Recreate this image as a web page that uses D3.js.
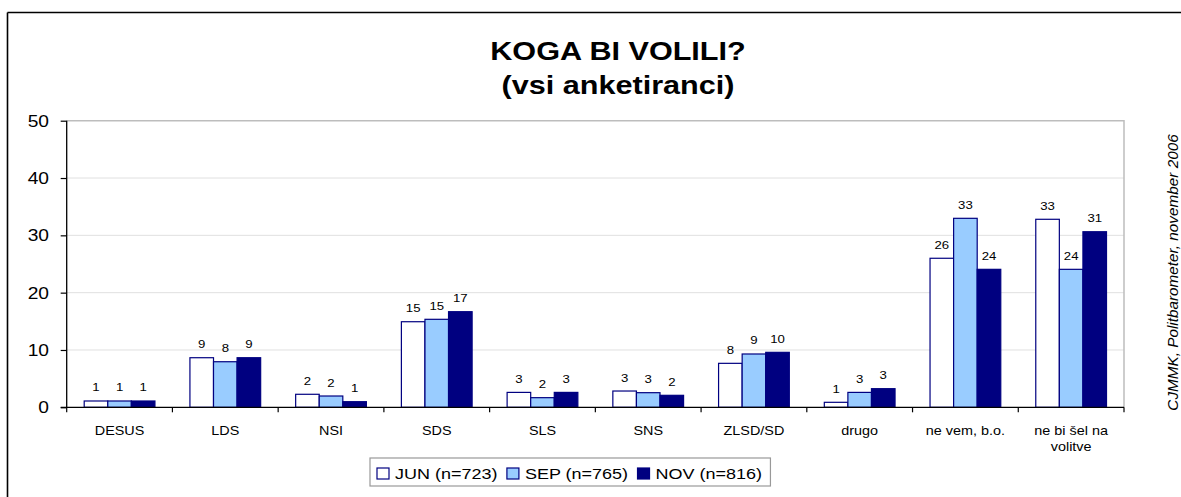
<!DOCTYPE html>
<html>
<head>
<meta charset="utf-8">
<script src="https://cdn.jsdelivr.net/npm/d3@7"></script>
<style>
  html, body { margin: 0; padding: 0; background: #fff; overflow: hidden; }
  svg { display: block; font-family: "Liberation Sans", Arial, sans-serif; }
</style>
</head>
<body>
<svg id="chart" width="1181" height="497"></svg>
<script>
// ---- data ----
const categories = ["DESUS", "LDS", "NSI", "SDS", "SLS", "SNS", "ZLSD/SD", "drugo", "ne vem, b.o.", "ne bi šel na volitve"];
const seriesNames = ["JUN (n=723)", "SEP (n=765)", "NOV (n=816)"];
const junValues = [1.1, 8.65, 2.27, 14.93, 2.6, 2.84, 7.67, 0.87, 26.0, 32.8];
const sepValues = [1.1, 7.95, 1.97, 15.35, 1.68, 2.55, 9.3, 2.6, 32.97, 24.07];
const novValues = [1.1, 8.65, 0.98, 16.68, 2.6, 2.09, 9.59, 3.25, 24.07, 30.63];
const yTicks = [0, 10, 20, 30, 40, 50];
const titleLines = ["KOGA BI VOLILI?", "(vsi anketiranci)"];
const sourceText = "CJMMK, Politbarometer, november 2006";

const seriesValues = [junValues, sepValues, novValues];
const fills = ["#ffffff", "#99ccff", "#000080"];
const stroke = "#000080";
const SX = 1.2; // horizontal text stretch of the original picture

const svg = d3.select("#chart");

// outer frame (top and left edges visible)
svg.append("line").attr("x1", 7.5).attr("x2", 1220).attr("y1", 12.5).attr("y2", 12.5)
  .attr("stroke", "#000").attr("stroke-width", 1.6);
svg.append("line").attr("x1", 7.5).attr("x2", 7.5).attr("y1", 12.5).attr("y2", 520)
  .attr("stroke", "#000").attr("stroke-width", 1.6);

function stretchedText(parent, x, y, str, opts) {
  const g = parent.append("g").attr("transform", `translate(${x},${y}) scale(${SX},1)`);
  const t = g.append("text").attr("x", 0).attr("y", 0).text(str)
    .attr("text-anchor", opts.anchor || "middle")
    .attr("font-size", opts.size)
    .attr("font-weight", opts.weight || "normal")
    .attr("fill", opts.fill || "#000");
  return t;
}

// title
titleLines.forEach((l, i) => {
  stretchedText(svg, 618, 60 + i * 34, l, { size: 25.5, weight: "bold" });
});

// scales
const plotL = 66.7, plotR = 1124, plotT = 120.7, plotB = 407.3;
const y = d3.scaleLinear().domain([0, 50]).range([plotB, plotT]);
const x0 = d3.scaleBand().domain(categories).range([plotL, plotR]).paddingInner(0).paddingOuter(0);
const bw = x0.bandwidth();
const gap = bw * 0.1655;
const x1 = d3.scaleBand().domain(d3.range(3)).range([gap, bw - gap]).padding(0);

// gridlines
svg.append("g").selectAll("line").data(yTicks.filter(d => d > 0 && d < 50)).join("line")
  .attr("x1", plotL).attr("x2", plotR).attr("y1", d => y(d)).attr("y2", d => y(d))
  .attr("stroke", "#e0e0e0").attr("stroke-width", 1);
// plot border top & right
svg.append("path")
  .attr("d", `M${plotL},${y(50)}H${plotR}V${plotB}`)
  .attr("fill", "none").attr("stroke", "#bdbdbd").attr("stroke-width", 1.5);

// bars
const gBars = svg.append("g");
categories.forEach((c, ci) => {
  seriesValues.forEach((vals, si) => {
    const v = vals[ci];
    const bx = x0(c) + x1(si);
    gBars.append("rect")
      .attr("x", bx).attr("y", y(v))
      .attr("width", x1.bandwidth()).attr("height", y(0) - y(v))
      .attr("fill", fills[si]).attr("stroke", stroke).attr("stroke-width", 1.2);
    stretchedText(svg, bx + x1.bandwidth() / 2, y(v) - 9.5, String(Math.round(v)), { size: 11 });
  });
});

// y axis
const yAxis = d3.axisLeft(y).tickValues(yTicks).tickSize(6).tickPadding(0).tickFormat("");
const gy = svg.append("g").attr("transform", `translate(${plotL},0)`).call(yAxis);
gy.select(".domain").attr("stroke", "#000").attr("stroke-width", 1.3).attr("d", `M0,${plotB}V${plotT}`);
gy.selectAll(".tick line").attr("stroke", "#000").attr("stroke-width", 1.2);
yTicks.forEach(t => {
  stretchedText(svg, 49, y(t) + 6, String(t), { size: 16, anchor: "end" });
});

// x axis
const xAxis = d3.axisBottom(x0).tickSize(0).tickFormat("");
const gx = svg.append("g").attr("transform", `translate(0,${plotB})`).call(xAxis);
gx.select(".domain").attr("stroke", "#000").attr("stroke-width", 1.3).attr("d", `M${plotL - 6},0H${plotR}`);
gx.selectAll(".tick").remove();
const boundaries = categories.map(c => x0(c)).concat([plotR]);
gx.selectAll("line.bt").data(boundaries).join("line").attr("class", "bt")
  .attr("x1", d => d).attr("x2", d => d).attr("y1", 0).attr("y2", 5)
  .attr("stroke", "#000").attr("stroke-width", 1.2);

// category labels (wrapped to band width)
const measure = svg.append("text").attr("font-size", 12).attr("visibility", "hidden");
function textW(s) { measure.text(s); return measure.node().getComputedTextLength() * SX; }
categories.forEach(c => {
  const words = c.split(" ");
  const lines = [];
  let cur = "";
  words.forEach(w => {
    const test = cur ? cur + " " + w : w;
    if (cur && textW(test) > bw - 12) { lines.push(cur); cur = w; } else cur = test;
  });
  lines.push(cur);
  lines.forEach((l, i) => {
    stretchedText(svg, x0(c) + bw / 2, 435 + i * 16, l, { size: 12 });
  });
});
measure.remove();

// source text (rotated)
svg.append("text")
  .attr("transform", `translate(1178,272.5) rotate(-90)`)
  .attr("text-anchor", "middle").attr("font-size", 15.3).attr("font-style", "italic")
  .text(sourceText);

// legend
const legend = svg.append("g");
const lx = 370, ly = 458, lh = 28;
const box = legend.append("rect").attr("x", lx).attr("y", ly).attr("height", lh)
  .attr("fill", "#fff").attr("stroke", "#999").attr("stroke-width", 1.2);
let cursor = lx + 7;
seriesNames.forEach((n, i) => {
  legend.append("rect").attr("x", cursor).attr("y", ly + 10).attr("width", 12).attr("height", 11)
    .attr("fill", fills[i]).attr("stroke", stroke).attr("stroke-width", 1.2);
  const t = stretchedText(legend, cursor + 18, ly + 21, n, { size: 15, anchor: "start" });
  const w = t.node().getComputedTextLength() * SX;
  cursor = cursor + 18 + w + 9.5;
});
box.attr("width", cursor - lx - 1);
</script>
</body>
</html>
